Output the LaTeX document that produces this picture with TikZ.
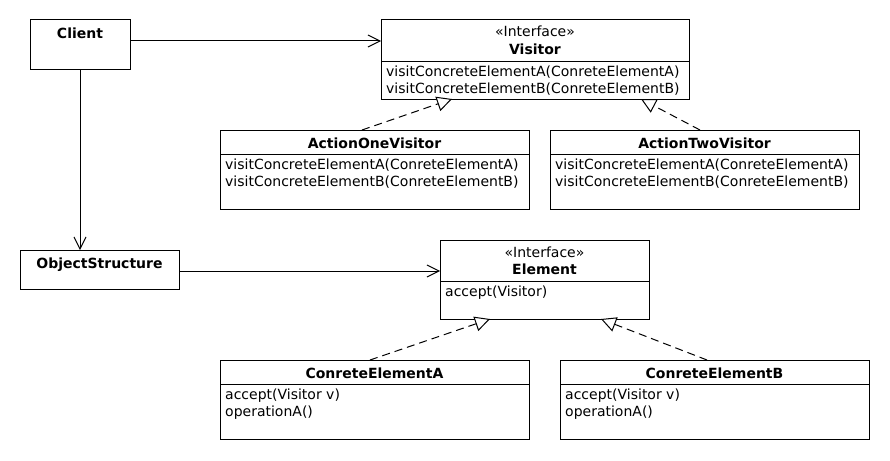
\documentclass[tikz,border=0pt]{standalone}
\usepackage{fontspec}
\setmainfont{DejaVu Sans}
\usetikzlibrary{arrows.meta}
\begin{document}
\begin{tikzpicture}[x=1pt,y=-1pt,
  box/.style={draw, line width=1pt, rectangle, inner sep=0pt, outer sep=0pt, anchor=north west},
  txt/.style={inner sep=0pt, font=\fontsize{14}{17}\selectfont, anchor=base west},
  ttl/.style={inner sep=0pt, font=\fontsize{14}{17}\selectfont\bfseries, anchor=base},
  ster/.style={inner sep=0pt, font=\fontsize{14}{17}\selectfont, anchor=base},
  assoc/.style={line width=1pt, -{Straight Barb[length=12pt,width=12pt]}},
  real/.style={line width=1pt, dash pattern=on 8pt off 5pt, -{Triangle[open,length=15pt,width=15pt,fill=white]}},
  sep/.style={line width=1pt}
]
\fill[white] (0,0) rectangle (890,460);
\useasboundingbox (0,0) rectangle (890,460);

% boxes
\node[box, minimum width=100pt, minimum height=49pt] (client) at (30,20) {};
\node[box, minimum width=308pt, minimum height=79pt] (visitor) at (381,20) {};
\node[box, minimum width=309pt, minimum height=79pt] (aone) at (220,130) {};
\node[box, minimum width=309pt, minimum height=79pt] (atwo) at (550,130) {};
\node[box, minimum width=159pt, minimum height=39pt] (objs) at (20,250) {};
\node[box, minimum width=209pt, minimum height=79pt] (elem) at (440,240) {};
\node[box, minimum width=309pt, minimum height=79pt] (ea) at (220,360) {};
\node[box, minimum width=309pt, minimum height=79pt] (eb) at (560,360) {};

% dividers
\draw[sep] ([yshift=-41pt]visitor.north west) -- ([yshift=-41pt]visitor.north east);
\draw[sep] ([yshift=-24pt]aone.north west) -- ([yshift=-24pt]aone.north east);
\draw[sep] ([yshift=-24pt]atwo.north west) -- ([yshift=-24pt]atwo.north east);
\draw[sep] ([yshift=-41pt]elem.north west) -- ([yshift=-41pt]elem.north east);
\draw[sep] ([yshift=-24pt]ea.north west) -- ([yshift=-24pt]ea.north east);
\draw[sep] ([yshift=-24pt]eb.north west) -- ([yshift=-24pt]eb.north east);

% texts
\node[ttl] (clientT) at ([yshift=-18pt]client.north) {Client};

\node[ster] (visitorS) at ([yshift=-17pt]visitor.north) {«Interface»};
\node[ttl] (visitorT) at ([yshift=-34pt]visitor.north) {Visitor};
\node[txt] (visitorM1) at ([xshift=5pt,yshift=-56pt]visitor.north west) {visitConcreteElementA(ConreteElementA)};
\node[txt] (visitorM2) at ([xshift=5pt,yshift=-73pt]visitor.north west) {visitConcreteElementB(ConreteElementB)};

\node[ttl] (aoneT) at ([yshift=-18pt]aone.north) {ActionOneVisitor};
\node[txt] (aoneM1) at ([xshift=5pt,yshift=-39pt]aone.north west) {visitConcreteElementA(ConreteElementA)};
\node[txt] (aoneM2) at ([xshift=5pt,yshift=-56pt]aone.north west) {visitConcreteElementB(ConreteElementB)};

\node[ttl] (atwoT) at ([yshift=-18pt]atwo.north) {ActionTwoVisitor};
\node[txt] (atwoM1) at ([xshift=5pt,yshift=-39pt]atwo.north west) {visitConcreteElementA(ConreteElementA)};
\node[txt] (atwoM2) at ([xshift=5pt,yshift=-56pt]atwo.north west) {visitConcreteElementB(ConreteElementB)};

\node[ttl] (objsT) at ([yshift=-18pt]objs.north) {ObjectStructure};

\node[ster] (elemS) at ([yshift=-17pt]elem.north) {«Interface»};
\node[ttl] (elemT) at ([yshift=-34pt]elem.north) {Element};
\node[txt] (elemM1) at ([xshift=5pt,yshift=-56pt]elem.north west) {accept(Visitor)};

\node[ttl] (eaT) at ([yshift=-18pt]ea.north) {ConreteElementA};
\node[txt] (eaM1) at ([xshift=5pt,yshift=-39pt]ea.north west) {accept(Visitor v)};
\node[txt] (eaM2) at ([xshift=5pt,yshift=-56pt]ea.north west) {operationA()};

\node[ttl] (ebT) at ([yshift=-18pt]eb.north) {ConreteElementB};
\node[txt] (ebM1) at ([xshift=5pt,yshift=-39pt]eb.north west) {accept(Visitor v)};
\node[txt] (ebM2) at ([xshift=5pt,yshift=-56pt]eb.north west) {operationA()};

% connectors
\draw[assoc] ([yshift=-21pt]client.north east) -- ([yshift=-21pt]visitor.north west);
\draw[assoc] (client.south) -- (client.south |- objs.north);
\draw[assoc] ([yshift=-21pt]objs.north east) -- ([yshift=-31pt]elem.north west);

\draw[real] ([xshift=142pt]aone.north west) -- ([xshift=71pt]visitor.south west);
\draw[real] ([xshift=150pt]atwo.north west) -- ([xshift=260pt]visitor.south west);
\draw[real] ([xshift=150pt]ea.north west) -- ([xshift=50pt]elem.south west);
\draw[real] ([xshift=147pt]eb.north west) -- ([xshift=161pt]elem.south west);
\end{tikzpicture}
\end{document}
